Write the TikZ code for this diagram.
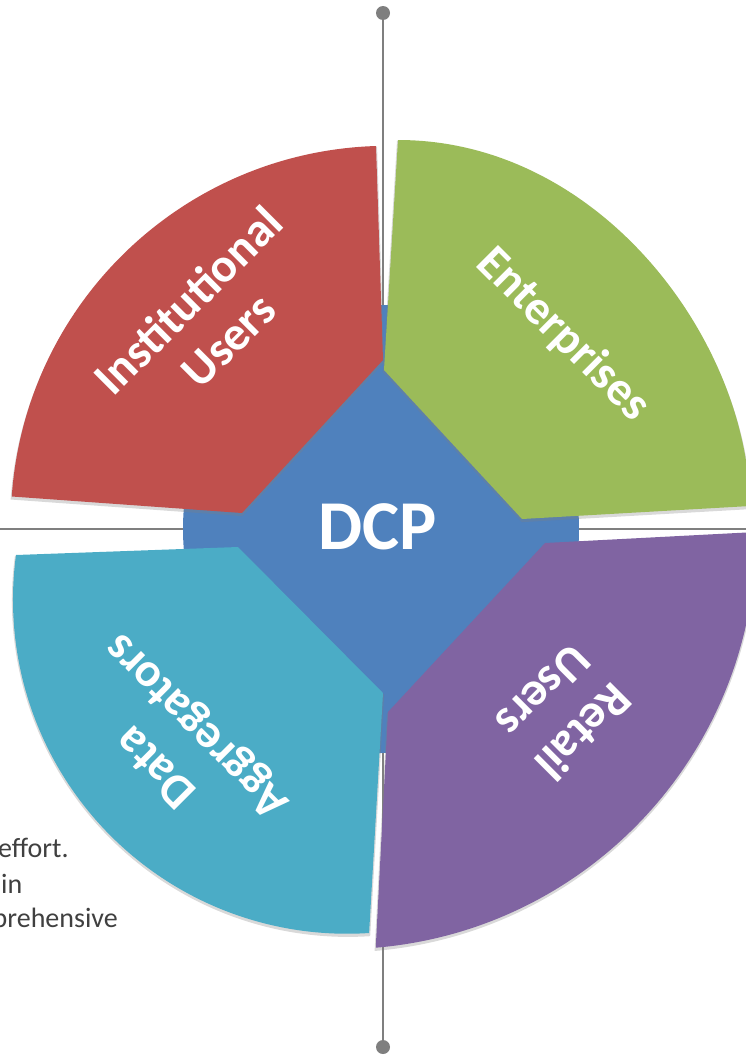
\documentclass[tikz,border=0pt]{standalone}
\usepackage{fontspec}
\setmainfont{Carlito}
\usetikzlibrary{shadows}
\definecolor{hubblue}{HTML}{4F81BD}
\definecolor{instred}{HTML}{C0504D}
\definecolor{entgreen}{HTML}{9BBB59}
\definecolor{aggcyan}{HTML}{4BACC6}
\definecolor{retpurple}{HTML}{8064A2}
\definecolor{guidegray}{HTML}{7F7F7F}
\tikzstyle{wedge}=[drop shadow={shadow xshift=0pt,shadow yshift=-2pt,shadow scale=1.006,opacity=0.3}]
\tikzstyle{wedgelabel}=[font=\bfseries\fontsize{48}{57}\selectfont,text=white,align=center,inner sep=0pt]
\tikzstyle{enddot}=[circle,fill=guidegray,minimum size=14pt,inner sep=0pt]
\tikzstyle{guide}=[draw=guidegray,line width=1.6pt]
\tikzstyle{sidetext}=[font=\fontsize{28}{34}\selectfont,text=black!75,inner sep=0pt]

\begin{document}
\begin{tikzpicture}[x=1pt,y=-1pt]
	\useasboundingbox (0,0) rectangle (746,1055);
	\clip (0,0) rectangle (746,1055);

	% First the guide lines behind the wheel
	\node[enddot] (top) at (383,13) {};
	\node[enddot] (bottom) at (383,1047) {};
	\coordinate (west) at (0,529);
	\coordinate (east) at (746,529);
	\path[guide] (top) -- (bottom);
	\path[guide,line width=1.3pt] (west) -- (east);

	% The hub
	\fill[hubblue] (381,529) ellipse [x radius=198, y radius=224];

	% Then the four wedges round it
	\fill[instred,wedge] (383,360) -- (376,146) arc[start angle=-91.8, end angle=-176, radius=377] -- (242,513) -- cycle;
	\fill[entgreen,wedge] (384,370) -- (398,140) .. controls (600,140) and (748,340) .. (750,506) -- (522,519) -- cycle;
	\fill[aggcyan,wedge] (238,547) -- (16,555) arc[start angle=187.7, end angle=86.2, radius=334] -- (383,693) -- cycle;
	\fill[retpurple,wedge] (545,543) -- (756,532) arc[start angle=-0.3, end angle=85.2, radius=415] -- (388,712) -- cycle;

	% Labels
	\node[font=\bfseries\fontsize{70}{84}\selectfont,text=white] (dcp) at (378,527) {DCP};
	\foreach \pos/\ang/\name/\txt in {{(208,320)/45/inst/{Institutional\\Users}}, {(563,335)/-45/ent/{Enterprises}},
									  {(178,745)/135/agg/{Data\\Aggregators}}, {(564,712)/-135/ret/{Retail\\Users}}}
		\node[wedgelabel,rotate=\ang] (\name) at \pos {\txt};

	% Text cut off at the left edge
	\node[sidetext,anchor=base west] (effort) at (-2,857) {effort.};
	\node[sidetext,anchor=base west] (within) at (1,893) {in};
	\node[sidetext,anchor=base east] (hensive) at (118,927) {prehensive};
\end{tikzpicture}
\end{document}
